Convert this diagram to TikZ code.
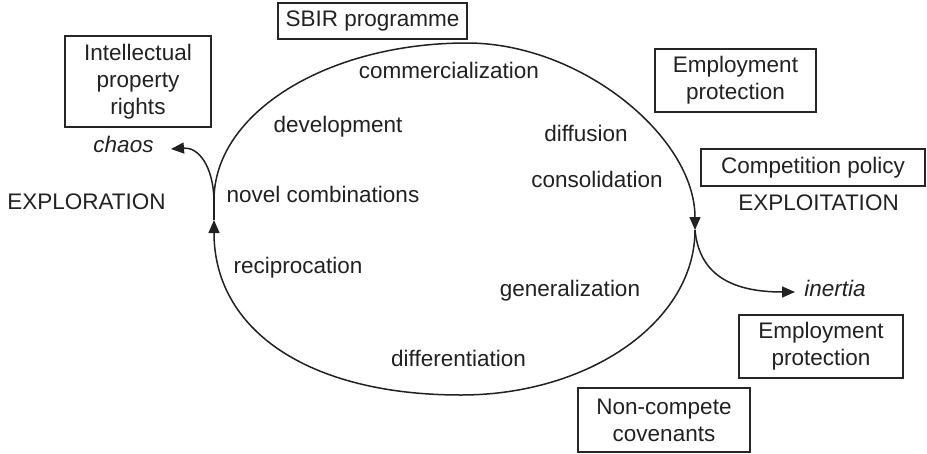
\documentclass[tikz,border=0pt]{standalone}
\usepackage{fontspec}
\setmainfont{Liberation Sans}
\usetikzlibrary{arrows.meta}
\definecolor{ink}{gray}{0.13}
\definecolor{frame}{gray}{0.15}
\begin{document}
\begin{tikzpicture}[x=1pt,y=-1pt,
  every node/.style={font=\fontsize{22.5}{27}\selectfont, text=ink},
  lbl/.style={inner sep=0pt, text height=16pt, text depth=4.5pt},
  policy/.style={draw=frame, line width=1.1pt, align=center, inner sep=0pt},
  loopline/.style={line width=1.5pt, draw=ink},
  tip/.style={-{Triangle[length=13pt,width=11pt]}}
]
\useasboundingbox (0,0) rectangle (927,453);

% points of the cycle
\coordinate (L) at (214,200);
\coordinate (T) at (467,43);
\coordinate (R) at (695,230);
\coordinate (B) at (461,395);
\coordinate (Lup) at (214,220);
\coordinate (chaostip) at (171,149);
\coordinate (inertiatip) at (795,292);

% policy boxes
\node[policy, minimum width=189pt, minimum height=36pt] (sbir) at (372.5,21) {SBIR programme};
\node[policy, minimum width=146pt, minimum height=91pt] (ipr) at (138,81.5) {Intellectual\\property\\rights};
\node[policy, minimum width=161pt, minimum height=63pt] (ep1) at (735.5,80.5) {Employment\\protection};
\node[policy, minimum width=224pt, minimum height=37pt] (cp) at (813,167.5) {Competition policy};
\node[policy, minimum width=164pt, minimum height=63pt] (ep2) at (821,346.5) {Employment\\protection};
\node[policy, minimum width=172pt, minimum height=64pt] (nc) at (664,420) {Non-compete\\covenants};

% stage labels
\node[lbl, font=\fontsize{22.5}{27}\selectfont\itshape] (chaos) at (123.5,147) {chaos};
\node[lbl] (explo) at (86.5,204) {EXPLORATION};
\node[lbl] (comm) at (449,73) {commercialization};
\node[lbl] (dev) at (338,127) {development};
\node[lbl] (diff) at (586,136) {diffusion};
\node[lbl] (cons) at (597,182) {consolidation};
\node[lbl] (novel) at (323,197) {novel combinations};
\node[lbl] (exploit) at (818.5,205) {EXPLOITATION};
\node[lbl] (recip) at (298,268) {reciprocation};
\node[lbl] (gen) at (570,291) {generalization};
\node[lbl, font=\fontsize{22.5}{27}\selectfont\itshape] (inertia) at (835,291) {inertia};
\node[lbl] (differ) at (458.5,361) {differentiation};

% the cycle
\draw[loopline, tip] (L) .. controls (214,113) and (327,43) .. (T)
  .. controls (581,43) and (695,137) .. (R);
\draw[loopline, tip] (R) .. controls (695,321) and (590,395) .. (B)
  .. controls (308,395) and (214,330) .. (Lup);
\draw[loopline] (Lup) -- (L);

% exits from the cycle
\draw[loopline, tip] (L) .. controls (213,165) and (198,147) .. (chaostip);
\draw[loopline, tip] (R) .. controls (699,272) and (728,292) .. (inertiatip);
\end{tikzpicture}
\end{document}
